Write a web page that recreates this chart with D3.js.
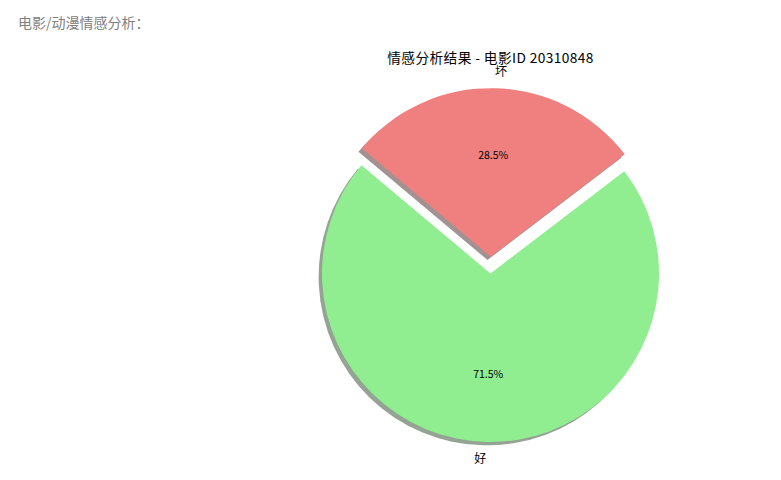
<!DOCTYPE html>
<html>
<head>
<meta charset="utf-8">
<script src="https://cdn.jsdelivr.net/npm/d3@7"></script>
<style>
  body { margin: 0; background: #fff; }
  #header {
    position: absolute; left: 18px; top: 12px;
    font-family: "Noto Sans CJK SC", sans-serif;
    font-size: 14px; color: #808080;
  }
</style>
</head>
<body>
<div id="header">电影/动漫情感分析：</div>
<div id="chart"></div>
<script>
  // sentiment shares
  var labels = ["好", "坏"];
  var values = [71.5, 28.5];
  var colors = ["#90EE90", "#F08080"];
  var explode = [0, 0.1];
  var title = "情感分析结果 - 电影ID 20310848";

  var w = 781, h = 480;
  var cx = 490.5, cy = 273.5, r = 168.5;
  var font = '"Noto Sans CJK SC", sans-serif';

  var svg = d3.select("#chart").append("svg")
    .attr("width", w)
    .attr("height", h)
    .style("position", "absolute")
    .style("left", 0).style("top", 0);

  // matplotlib startangle=140, counterclockwise -> d3 angles (0 at top, clockwise)
  var start = (90 - 140) * Math.PI / 180;
  var pie = d3.pie().sort(null).value(function(d){ return d; })
    .startAngle(start).endAngle(start - 2 * Math.PI);

  var arcs = pie(values).map(function(d, i){
    var mid = (d.startAngle + d.endAngle) / 2;
    d.i = i;
    d.mid = mid;
    d.ox = Math.sin(mid) * explode[i] * r;
    d.oy = -Math.cos(mid) * explode[i] * r;
    return d;
  });

  var arc = d3.arc().innerRadius(0).outerRadius(r);

  var g = svg.append("g").attr("transform", "translate(" + cx + "," + cy + ")");

  // shadows underneath every wedge
  var so = 0.02 * r;
  g.selectAll("path.shadow").data(arcs).enter().append("path")
    .attr("class", "shadow")
    .attr("d", arc)
    .attr("transform", function(d){ return "translate(" + (d.ox - so) + "," + (d.oy + so) + ")"; })
    .attr("fill", function(d){
      var c = d3.rgb(colors[d.i]);
      return d3.rgb(c.r * 0.3, c.g * 0.3, c.b * 0.3).toString();
    })
    .attr("fill-opacity", 0.5);

  g.selectAll("path.wedge").data(arcs).enter().append("path")
    .attr("class", "wedge")
    .attr("d", arc)
    .attr("transform", function(d){ return "translate(" + d.ox + "," + d.oy + ")"; })
    .attr("fill", function(d){ return colors[d.i]; });

  // category labels at 1.1 r
  g.selectAll("text.lab").data(arcs).enter().append("text")
    .attr("class", "lab")
    .attr("x", function(d){ return d.ox + Math.sin(d.mid) * 1.1 * r; })
    .attr("y", function(d){ return d.oy - Math.cos(d.mid) * 1.1 * r; })
    .attr("dy", "0.35em")
    .attr("text-anchor", function(d){ return Math.sin(d.mid) > 0 ? "start" : "end"; })
    .style("font-family", font)
    .style("font-size", "12px")
    .attr("fill", "#000")
    .text(function(d){ return labels[d.i]; });

  // percentages at 0.6 r
  g.selectAll("text.pct").data(arcs).enter().append("text")
    .attr("class", "pct")
    .attr("x", function(d){ return d.ox + Math.sin(d.mid) * 0.6 * r; })
    .attr("y", function(d){ return d.oy - Math.cos(d.mid) * 0.6 * r; })
    .attr("dy", "0.35em")
    .attr("text-anchor", "middle")
    .style("font-family", font)
    .style("font-size", "10.5px")
    .attr("fill", "#000")
    .text(function(d){ return d3.format(".1f")(values[d.i]) + "%"; });

  svg.append("text")
    .attr("x", cx)
    .attr("y", 63)
    .attr("text-anchor", "middle")
    .style("font-family", font)
    .style("font-size", "13.7px")
    .style("letter-spacing", "0.4px")
    .attr("fill", "#000")
    .text(title);
</script>
</body>
</html>
